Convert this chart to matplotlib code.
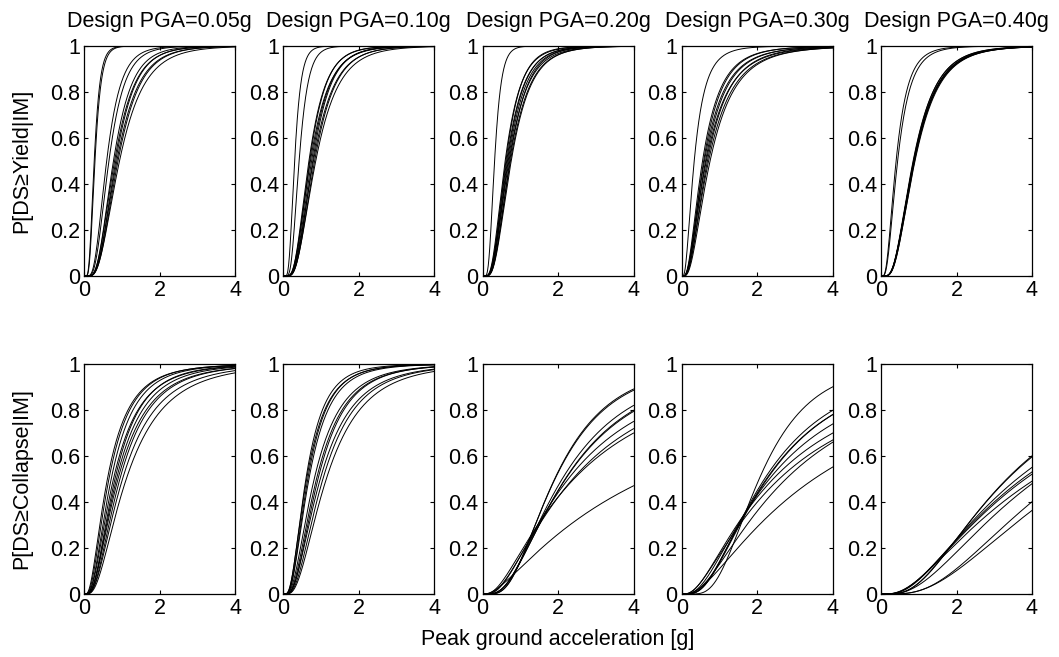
import math
import matplotlib
matplotlib.use("Agg")
import matplotlib.pyplot as plt
import numpy as np

plt.rcParams['font.family'] = ['Liberation Sans', 'DejaVu Sans']
plt.rcParams['font.size'] = 15.5

design_pga = ["0.05g", "0.10g", "0.20g", "0.30g", "0.40g"]

# lognormal fragility parameters (median [g], dispersion)
yield_theta = [
    [0.27, 0.29, 0.60, 0.66, 0.78, 0.81, 0.84, 0.87, 0.90, 0.94],
    [0.30, 0.42, 0.68, 0.70, 0.72, 0.75, 0.78, 0.80, 0.83, 0.86],
    [0.32, 0.60, 0.62, 0.64, 0.66, 0.68, 0.70, 0.72, 0.74, 0.76],
    [0.33, 0.55, 0.58, 0.60, 0.63, 0.65, 0.68, 0.71, 0.75],
    [0.40, 0.44, 0.85, 0.86, 0.87, 0.87, 0.88, 0.88, 0.89, 0.90],
]
yield_beta = [
    [0.45, 0.45, 0.50, 0.50, 0.50, 0.52, 0.50, 0.53, 0.52, 0.55],
    [0.45, 0.45, 0.52, 0.50, 0.55, 0.52, 0.50, 0.55, 0.53, 0.56],
    [0.44, 0.55, 0.52, 0.56, 0.54, 0.55, 0.57, 0.53, 0.56, 0.55],
    [0.70, 0.70, 0.68, 0.72, 0.70, 0.74, 0.70, 0.72, 0.70],
    [0.62, 0.62, 0.57, 0.56, 0.58, 0.57, 0.57, 0.58, 0.56, 0.57],
]
collapse_theta = [
    [0.62, 0.66, 0.72, 0.78, 0.82, 0.86, 0.90, 0.95, 1.02, 1.12],
    [0.60, 0.62, 0.65, 0.68, 0.82, 0.88, 0.92, 0.98, 1.05, 1.14],
    [1.91, 1.92, 2.11, 2.19, 2.20, 2.27, 2.39, 2.42, 4.38],
    [2.05, 2.19, 2.24, 2.26, 2.32, 2.42, 2.58, 2.76, 3.50],
    [3.33, 3.35, 3.60, 3.74, 3.82, 4.09, 4.17, 4.78, 5.20],
]
collapse_beta = [
    [0.75, 0.72, 0.70, 0.72, 0.68, 0.70, 0.72, 0.70, 0.72, 0.72],
    [0.65, 0.68, 0.65, 0.66, 0.70, 0.68, 0.66, 0.70, 0.68, 0.68],
    [0.60, 0.61, 0.70, 0.72, 0.73, 0.84, 0.89, 0.96, 1.22],
    [0.52, 0.72, 0.75, 0.74, 0.85, 0.96, 1.00, 0.90, 1.02],
    [0.72, 0.73, 0.83, 0.87, 0.88, 0.93, 0.81, 0.71, 0.75],
]

pga = np.linspace(0.001, 4, 400)
erf = np.vectorize(math.erf)


def fragility(x, theta, beta):
    return 0.5 * (1 + erf(np.log(x / theta) / (beta * math.sqrt(2))))


fig = plt.figure(figsize=(10.59, 6.57), dpi=100)

ax_w = 151 / 1059
ax_h = 230 / 657
lefts = [84 / 1059 + i * 199.25 / 1059 for i in range(5)]
bottoms = [1 - 276 / 657, 1 - 594 / 657]

rows = [(yield_theta, yield_beta, "P[DS\u2265Yield|IM]"),
        (collapse_theta, collapse_beta, "P[DS\u2265Collapse|IM]")]

for r, (thetas, betas, ylab) in enumerate(rows):
    for c in range(5):
        ax = fig.add_axes([lefts[c], bottoms[r], ax_w, ax_h])
        for th, bt in zip(thetas[c], betas[c]):
            ax.plot(pga, fragility(pga, th, bt), color='black', lw=0.7)
        ax.set_xlim(0, 4)
        ax.set_ylim(0, 1)
        ax.set_xticks([0, 2, 4])
        ax.set_yticks([0, 0.2, 0.4, 0.6, 0.8, 1])
        ax.set_yticklabels(["0", "0.2", "0.4", "0.6", "0.8", "1"])
        ax.tick_params(direction='in', top=True, right=True, length=3,
                       width=0.8, labelsize=15.5)
        ax.tick_params(axis='x', pad=3)
        ax.tick_params(axis='y', pad=3)
        for s in ax.spines.values():
            s.set_linewidth(0.9)
        if r == 0:
            ax.set_title("Design PGA=" + design_pga[c], fontsize=15.5, pad=13.5)
        if c == 0:
            ax.set_ylabel(ylab, fontsize=15.5)
            ax.yaxis.set_label_coords(-0.345, 0.5)

fig.text(558 / 1059, 1 - 640 / 657, "Peak ground acceleration [g]",
         ha='center', va='center', fontsize=15.5)

fig.savefig("out.png", dpi=100)
